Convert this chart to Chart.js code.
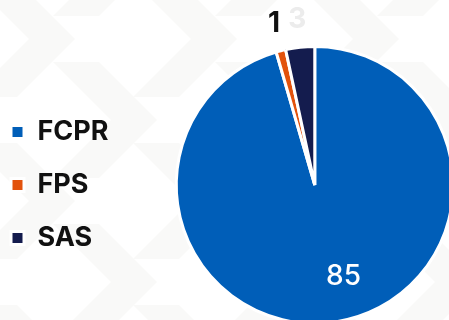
<!DOCTYPE html>
<html>
<head>
<meta charset="utf-8">
<script src="https://cdn.jsdelivr.net/npm/chart.js@4.4.1/dist/chart.umd.min.js"></script>
<style>
  html, body { margin: 0; padding: 0; width: 449px; height: 320px; overflow: hidden; background: #fff; }
  #wrap { position: absolute; left: -15px; top: 0; width: 526px; height: 370px; }
</style>
</head>
<body>
<div id="wrap"><canvas id="chart_pie"></canvas></div>
<script>
var categories = ['FCPR', 'FPS', 'SAS'];
var values = [85, 1, 3];
var sliceColors = ['#005EB8', '#E2520C', '#141C4E'];
var labelColors = ['#ffffff', '#111111', '#ececec'];

// faint chevron pattern behind the chart
(function () {
    var tile = 162, h = 58, t = 46, polys = '';
    var tips = [[75, 39], [157, 120]];
    tips.forEach(function (tp) {
        for (var dx = -1; dx <= 1; dx++) {
            for (var dy = -1; dy <= 1; dy++) {
                var x = tp[0] + dx * tile, y = tp[1] + dy * tile;
                polys += '<polygon points="' + [
                    [x - h, y - h], [x, y], [x - h, y + h], [x - h - t, y + h], [x - t, y], [x - h - t, y - h]
                ].map(function (p) { return p.join(','); }).join(' ') + '" fill="#f9f9f8"/>';
            }
        }
    });
    var svg = '<svg xmlns="http://www.w3.org/2000/svg" width="' + tile + '" height="' + tile + '">' + polys + '</svg>';
    document.body.style.backgroundImage = 'url("data:image/svg+xml,' + encodeURIComponent(svg) + '")';
})();

var total = values.reduce(function (a, b) { return a + b; }, 0);

var chart_pie = new Chart(document.getElementById('chart_pie'), {
    type: 'pie',
    data: {
        labels: categories,
        datasets: [{
            data: values,
            backgroundColor: sliceColors,
            borderColor: '#ffffff',
            borderWidth: 3,
            hoverOffset: 0
        }]
    },
    options: {
        animation: false,
        responsive: true,
        maintainAspectRatio: false,
        layout: {
            padding: { top: 45, bottom: 45, left: 0, right: 0 }
        },
        plugins: {
            legend: {
                position: 'left',
                labels: {
                    boxWidth: 13,
                    boxHeight: 13,
                    padding: 26,
                    color: '#111111',
                    font: { family: 'Inter', size: 27, weight: '700' }
                }
            },
            tooltip: { enabled: false }
        }
    },
    plugins: [{
        id: 'sliceLabels',
        afterDatasetsDraw: function (chart) {
            var ctx = chart.ctx;
            var meta = chart.getDatasetMeta(0);
            ctx.save();
            ctx.textAlign = 'center';
            ctx.textBaseline = 'middle';
            meta.data.forEach(function (arc, i) {
                var p = arc.getProps(['x', 'y', 'startAngle', 'endAngle', 'outerRadius'], true);
                var mid = (p.startAngle + p.endAngle) / 2;
                var r, weight, size;
                if (values[i] / total < 0.1) {
                    r = p.outerRadius * 1.2; weight = '700'; size = 28;
                } else {
                    mid -= 9.4 * Math.PI / 180;
                    r = p.outerRadius * 0.69; weight = '500'; size = 28;
                }
                ctx.font = weight + ' ' + size + 'px Inter';
                ctx.fillStyle = labelColors[i];
                ctx.fillText(String(values[i]), p.x + Math.cos(mid) * r, p.y + Math.sin(mid) * r);
            });
            ctx.restore();
        }
    }]
});
</script>
</body>
</html>
